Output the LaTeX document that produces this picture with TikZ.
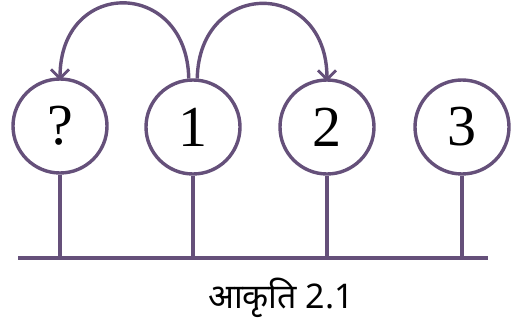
\documentclass[tikz,border=0pt]{standalone}
\usepackage{fontspec}
\setmainfont{Liberation Serif}
\newfontfamily\devfont[Script=Devanagari]{Noto Sans}
\usetikzlibrary{arrows.meta}
\definecolor{linecol}{HTML}{65507A}
\tikzset{
  numcircle/.style={circle, draw=linecol, line width=3.4pt, minimum size=94pt,
    inner sep=0pt, font=\fontsize{58}{60}\selectfont},
  stem/.style={draw=linecol, line width=3.4pt},
  jump/.style={draw=linecol, line width=3.4pt, -{Straight Barb[length=9pt, width=18pt, line width=2.8pt]}}
}

\begin{document}
\begin{tikzpicture}[x=1pt, y=-1pt]
    \useasboundingbox (0,0) rectangle (514,323);
    \node[numcircle] (q) at (60,126) {?};
    \node[numcircle] (one) at (193,127) {1};
    \node[numcircle] (two) at (327,127) {2};
    \node[numcircle] (three) at (462,127) {3};
    \coordinate (bl) at (18,258);
    \coordinate (br) at (488,258);
    \draw[stem, line width=3.8pt] (bl) -- (br);
    \foreach \n in {q, one, two, three}
      \draw[stem] (\n.south) -- (\n.south |- bl);
    \draw[jump, shorten >=-3pt] (one.95) .. controls +(-2,-100) and +(0,-100) .. (q.north);
    \draw[jump, shorten >=-3pt] (one.85) .. controls +(2,-100) and +(0,-100) .. (two.north);
    \node[font=\devfont\fontsize{34}{36}\selectfont] (caption) at (281,298) {आकृति 2.1};
\end{tikzpicture}
\end{document}
